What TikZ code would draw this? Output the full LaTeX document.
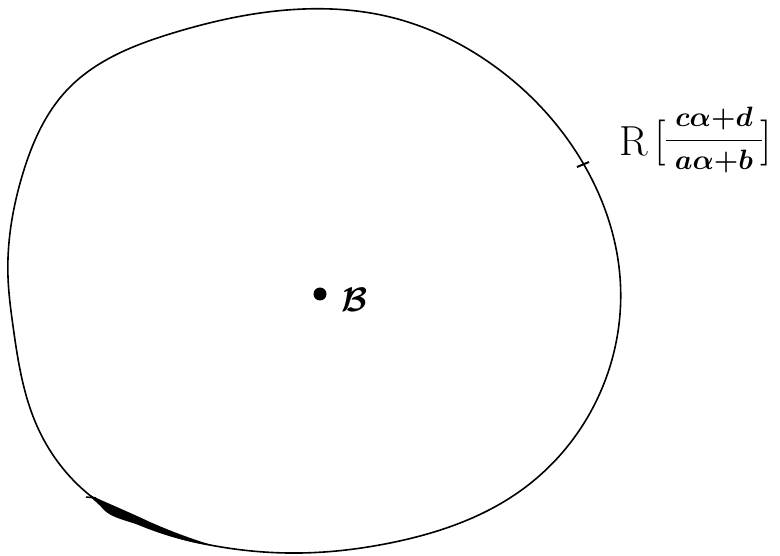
\RequirePackage{fix-cm}
\documentclass[tikz,border=0pt]{standalone}
\usepackage{amsmath}
\usetikzlibrary{hobby}
\tikzset{
  curve/.style={line width=1.6pt, line join=round, line cap=round},
  lbl/.style={inner sep=0pt, text=black}
}
\begin{document}
\begin{tikzpicture}[x=1pt,y=-1pt]
\useasboundingbox (0,0) rectangle (780,556);
\fill[white] (0,0) rectangle (780,556);
% closed curve
\draw[curve, use Hobby shortcut, closed=true]
 (287,10) .. (390,17) .. (490,63) .. (583,163) .. (620,277)
 .. (603,386) .. (523,489) .. (390,543) .. (300,553)
 .. (200,543) .. (87,493) .. (37,426) .. (13,326) .. (8,277)
 .. (23,173) .. (67,90) .. (173,33);
% smudge at lower left
\fill (88,494) .. controls (100,500) and (120,508) .. (150,522)
  .. controls (175,533) and (195,540) .. (215,546)
  .. controls (195,544) and (170,537) .. (145,527)
  .. controls (125,520) and (112,518) .. (104,510)
  .. controls (98,503) and (92,499) .. cycle;
\draw[line width=1.5pt] (86,497) -- (96,498);
% tick on the curve
\draw[line width=2pt] (577,167) -- (589,162);
% centre point
\node[circle, fill=black, inner sep=0pt, minimum size=13pt] (dot) at (320,294) {};
\node[lbl, anchor=west] (B) at (341,300) {\fontsize{34}{34}\selectfont$\boldsymbol{\mathcal{B}}$};
% label
\node[lbl] (R) at (634,141) {\fontsize{42}{42}\selectfont R};
\node[lbl] (lb) at (660,143) {\fontsize{46}{46}\selectfont [};
\node[lbl] (frac) at (714,140) {\fontsize{28}{32}\selectfont$\boldsymbol{\dfrac{\;c\alpha{+}d\;}{\;a\alpha{+}b\;}}$};
\node[lbl] (rb) at (766,143) {\fontsize{46}{46}\selectfont ]};
\end{tikzpicture}
\end{document}
